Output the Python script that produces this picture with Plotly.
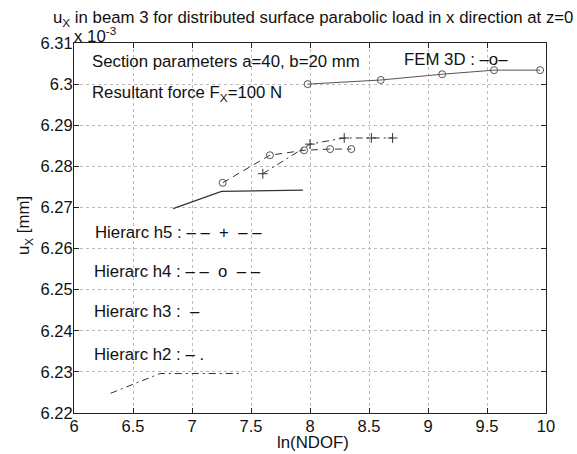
import plotly.graph_objects as go

# ---- data (ln(NDOF), u_x [mm]) ----
fem_x = [7.98, 8.60, 9.12, 9.56, 9.95]
fem_y = [6.3000, 6.3010, 6.3024, 6.3034, 6.3034]

h5_x = [7.60, 8.00, 8.29, 8.52, 8.70]
h5_y = [6.2782, 6.2854, 6.2869, 6.2869, 6.2869]

h4_x = [7.26, 7.66, 7.95, 8.17, 8.35]
h4_y = [6.2760, 6.2827, 6.2839, 6.2842, 6.2842]

h3_x = [6.84, 7.25, 7.94]
h3_y = [6.2697, 6.2739, 6.2742]

h2_x = [6.31, 6.73, 7.41]
h2_y = [6.2248, 6.2296, 6.2296]

xtick_vals = [6, 6.5, 7, 7.5, 8, 8.5, 9, 9.5, 10]
xtick_text = ["6", "6.5", "7", "7.5", "8", "8.5", "9", "9.5", "10"]
ytick_vals = [6.22, 6.23, 6.24, 6.25, 6.26, 6.27, 6.28, 6.29, 6.30, 6.31]
ytick_text = ["6.22", "6.23", "6.24", "6.25", "6.26", "6.27", "6.28", "6.29", "6.3", "6.31"]

FONT = "Liberation Sans, Arial, sans-serif"
FS = 16.8
TFS = 16.5
LC = "#333333"
NB = "\u00a0"

fig = go.Figure()
fig.add_trace(go.Scatter(x=fem_x, y=fem_y, mode="lines+markers",
                         line=dict(color="#555555", width=1),
                         marker=dict(symbol="circle-open", size=7, color="#555555", line=dict(width=1))))
fig.add_trace(go.Scatter(x=h5_x, y=h5_y, mode="lines+markers",
                         line=dict(color=LC, width=1, dash="7px,4px,2px,4px"),
                         marker=dict(symbol="cross-thin-open", size=7, color=LC, line=dict(width=1))))
fig.add_trace(go.Scatter(x=h4_x, y=h4_y, mode="lines+markers",
                         line=dict(color=LC, width=1, dash="7px,5px"),
                         marker=dict(symbol="circle-open", size=7, color="#555555", line=dict(width=1))))
fig.add_trace(go.Scatter(x=h3_x, y=h3_y, mode="lines",
                         line=dict(color=LC, width=1.2)))
fig.add_trace(go.Scatter(x=h2_x, y=h2_y, mode="lines",
                         line=dict(color=LC, width=1, dash="7px,4px,2px,4px")))

W, H = 577, 454
L, R, T, B = 74, 31, 43, 41
pw, ph = W - L - R, H - T - B
def px(xp): return (xp - L) / pw
def py(yp): return (H - B - yp) / ph

ann = []
def txt(xp, yp, s, size=FS, xanchor="left", angle=0):
    ann.append(dict(x=px(xp), y=py(yp), text=s, xref="paper", yref="paper", showarrow=False,
                    xanchor=xanchor, yanchor="middle", textangle=angle,
                    font=dict(family=FONT, size=size, color="#111111")))

dd = "–" + NB + "–"
txt(90, 61.5, "Section parameters a=40, b=20 mm")
txt(90, 93.5, "Resultant force F<sub>X</sub>=100 N")
txt(402, 60, "FEM 3D : –o–")
txt(93, 232, "Hierarc h5 : " + dd + NB * 2 + "+" + NB * 2 + dd)
txt(92, 271, "Hierarc h4 : " + dd + NB * 2 + "o" + NB * 2 + dd)
txt(92, 311, "Hierarc h3 :" + NB * 2 + "–")
txt(92, 354, "Hierarc h2 : – .")

txt(313, 18, "u<sub>X</sub> in beam 3 for distributed surface parabolic load in x direction at z=0",
    xanchor="center")
txt(72, 35, "x 10<sup>-3</sup>")
txt(312.5, 442, "ln(NDOF)", xanchor="center")
txt(24, 226, "u<sub>X</sub> [mm]", xanchor="center", angle=-90)

fig.update_layout(
    width=W, height=H,
    margin=dict(l=L, r=R, t=T, b=B),
    paper_bgcolor="white", plot_bgcolor="white",
    showlegend=False,
    annotations=ann,
    font=dict(family=FONT, size=FS, color="#111111"),
)
axis_common = dict(showline=True, linecolor="#222222", linewidth=1, mirror="allticks",
                   ticks="inside", ticklen=5, tickcolor="#222222",
                   showgrid=True, gridcolor="#bbbbbb", griddash="dot", gridwidth=1,
                   zeroline=False, tickfont=dict(family=FONT, size=TFS, color="#111111"))
fig.update_xaxes(range=[6, 10], tickvals=xtick_vals, ticktext=xtick_text, ticklabelstandoff=-2, **axis_common)
fig.update_yaxes(range=[6.22, 6.31], tickvals=ytick_vals, ticktext=ytick_text, ticklabelstandoff=-3, **axis_common)

fig.write_html("out.html")
